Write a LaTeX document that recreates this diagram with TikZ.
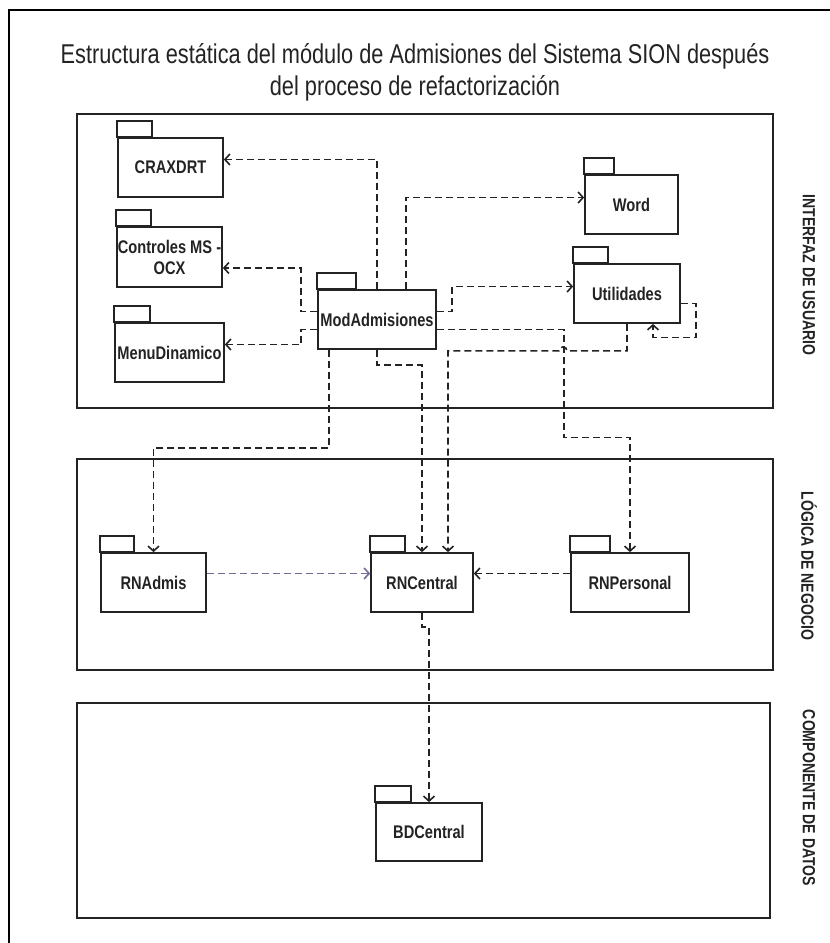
\documentclass[tikz,border=0pt]{standalone}
\usepackage{fontspec}
\setmainfont{Liberation Sans}[FakeStretch=0.8]
\usetikzlibrary{arrows.meta}

\definecolor{ink}{RGB}{35,35,35}
\definecolor{lila}{RGB}{120,105,150}

\tikzset{
  box/.style={draw=ink, line width=1.7pt},
  pkg/.style={box, fill=white, rectangle, inner sep=0pt, minimum height=59pt, align=center,
    font=\fontsize{18.3}{21}\selectfont\bfseries, text=ink},
  dep/.style={draw=ink, line width=1.6pt, dash pattern=on 7pt off 4pt,
    -{Straight Barb[length=5pt,width=11pt]}},
  panel/.style={draw=ink, line width=2pt},
  layer/.style={rotate=-90, font=\fontsize{17.6}{20}\selectfont\bfseries, text=ink}
}

\newcommand{\pkgtab}[2]{\draw[box] (#1.north west) rectangle ++(#2,-16);}

\begin{document}
\begin{tikzpicture}[x=1pt, y=-1pt]
\useasboundingbox (0,0) rectangle (830,943);

\draw[line width=2.6pt] (9,943) -- (9,10) -- (830,10);
\node[font=\fontsize{27.2}{32}\selectfont, align=center, text=ink] (title) at (415,72)
  {Estructura estática del módulo de Admisiones del Sistema SION después\\del proceso de refactorización};

\draw[panel] (77,114) rectangle (773,408);
\draw[panel] (77,459) rectangle (773,670);
\draw[panel] (77,703) rectangle (770,918);
\node[layer] (ui) at (809,275) {INTERFAZ DE USUARIO};
\node[layer] (ln) at (809,566) {LÓGICA DE NEGOCIO};
\node[layer] (cd) at (809,798) {COMPONENTE DE DATOS};

\node[pkg, minimum width=105pt] (crax) at (170.5,167.5) {CRAXDRT};
\node[pkg, minimum width=105pt, minimum height=60pt] (ctrl) at (169.5,257) {Controles MS -\\OCX};
\node[pkg, minimum width=109pt] (menu) at (169.5,352.5) {MenuDinamico};
\node[pkg, minimum width=118pt] (mod) at (377,319.5) {ModAdmisiones};
\node[pkg, minimum width=93pt] (word) at (631.5,204.5) {Word};
\node[pkg, minimum width=106pt] (util) at (627,293.5) {Utilidades};
\node[pkg, minimum width=105pt] (rna) at (153.5,582.5) {RNAdmis};
\node[pkg, minimum width=102pt] (rnc) at (422,582.5) {RNCentral};
\node[pkg, minimum width=118pt] (rnp) at (630,582.5) {RNPersonal};
\node[pkg, minimum width=106pt, minimum height=58pt] (bd) at (429,832) {BDCentral};

\pkgtab{crax}{35}
\pkgtab{ctrl}{35}
\pkgtab{menu}{36}
\pkgtab{mod}{39}
\pkgtab{word}{30}
\pkgtab{util}{35}
\pkgtab{rna}{34}
\pkgtab{rnc}{35}
\pkgtab{rnp}{40}
\pkgtab{bd}{36}

\draw[dep] (mod.north) |- ([yshift=8pt]crax.east);
\draw[dep] ([xshift=29pt]mod.north) |- ([yshift=7pt]word.west);
\draw[dep] ([yshift=8pt]mod.west) -- ++(-16,0) |- ([yshift=-11pt]ctrl.east);
\draw[dep] ([yshift=-10pt]mod.west) -- ++(-16,0) |- ([yshift=8pt]menu.east);
\draw[dep] ([yshift=8pt]mod.east) -- ++(15,0) |- ([yshift=7pt]util.west);
\draw[dep] ([yshift=-10pt]util.east) -- ++(15,0) -- ++(0,34) -| ([xshift=26pt]util.south);
\draw[dep] ([yshift=-10pt]mod.east) -- ++(127,0) -- ++(0,108) -| (rnp.north);
\draw[dep] (util.south) -- ++(0,27) -- ++(-60,0) arc[start angle=0, end angle=-180, radius=4] -| ([xshift=26pt]rnc.north);
\draw[dep] (mod.south) -- ++(0,15) -| (rnc.north);
\draw[dep] ([xshift=-48pt]mod.south) -- ++(0,98) -| (rna.north);
\draw[dep, draw=lila] ([yshift=9pt]rna.east) -- ([yshift=9pt]rnc.west);
\draw[dep] ([yshift=9pt]rnp.west) -- ([yshift=9pt]rnc.east);
\draw[dep] (rnc.south) -- ++(0,14) -| (bd.north);

\end{tikzpicture}
\end{document}
